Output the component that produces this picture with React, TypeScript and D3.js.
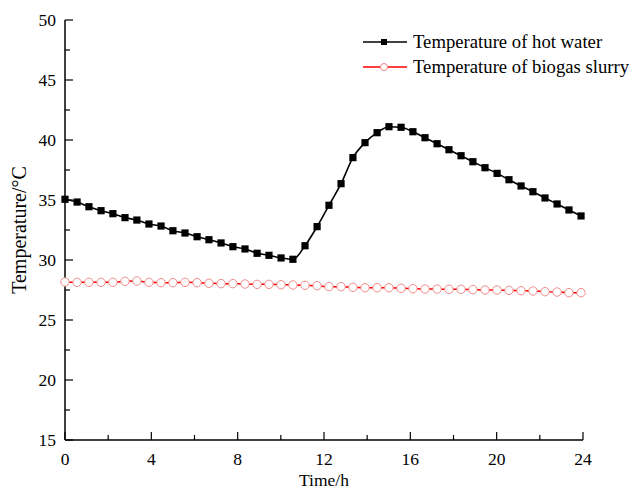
import React from 'react';
import * as d3 from 'd3';

// time (h) of each sample
const timeH = [
  0, 0.56, 1.11, 1.67, 2.22, 2.78, 3.33, 3.89, 4.45, 5.0, 5.56,
  6.12, 6.67, 7.23, 7.78, 8.34, 8.9, 9.45, 10.01, 10.56, 11.12,
  11.68, 12.23, 12.79, 13.34, 13.9, 14.46, 15.01, 15.57, 16.12, 16.68,
  17.24, 17.79, 18.35, 18.9, 19.46, 20.02, 20.57, 21.13, 21.68, 22.24,
  22.8, 23.35, 23.91,
];

const hotWater = [
  35.06, 34.83, 34.44, 34.11, 33.86, 33.53, 33.33, 33.0, 32.83, 32.44, 32.25,
  31.94, 31.69, 31.42, 31.11, 30.92, 30.56, 30.39, 30.17, 30.06, 31.19,
  32.78, 34.56, 36.36, 38.53, 39.78, 40.61, 41.11, 41.06, 40.69, 40.19,
  39.69, 39.19, 38.69, 38.19, 37.69, 37.22, 36.69, 36.17, 35.69, 35.17,
  34.67, 34.17, 33.67,
];

const slurry = [
  28.17, 28.14, 28.14, 28.14, 28.14, 28.22, 28.25, 28.14, 28.11, 28.11, 28.14,
  28.11, 28.06, 28.03, 28.03, 28.0, 27.97, 27.97, 27.94, 27.92, 27.89,
  27.86, 27.78, 27.78, 27.72, 27.69, 27.69, 27.69, 27.64, 27.61, 27.58,
  27.58, 27.56, 27.56, 27.53, 27.5, 27.5, 27.47, 27.44, 27.42, 27.36,
  27.33, 27.28, 27.28,
];

const xTicks = [0, 4, 8, 12, 16, 20, 24];
const xMinor = [2, 6, 10, 14, 18, 22];
const yTicks = [15, 20, 25, 30, 35, 40, 45, 50];
const yMinor = [17.5, 22.5, 27.5, 32.5, 37.5, 42.5, 47.5];

const legendLabels = ['Temperature of hot water', 'Temperature of biogas slurry'];

const W = 633;
const H = 490;
const FONT = '"Liberation Serif", "Times New Roman", serif';

const App: React.FC = () => {
  const x = d3.scaleLinear().domain([0, 24]).range([65, 583]);
  const y = d3.scaleLinear().domain([15, 50]).range([440, 20]);

  const line = d3
    .line<number>()
    .x((_, i) => x(timeH[i]))
    .y((d) => y(d))
    .curve(d3.curveMonotoneX);

  const x0 = x(0);
  const y0 = y(15);

  return (
    <div style={{ position: 'absolute', left: 0, top: 0 }}>
      <svg width={W} height={H} style={{ display: 'block', background: '#fff' }}>
        {/* axes */}
        <line x1={x0} x2={x0} y1={y(50)} y2={y0} stroke="#000" strokeWidth={1.5} />
        <line x1={x0} x2={x(24)} y1={y0} y2={y0} stroke="#000" strokeWidth={1.5} />

        {xTicks.map((t) => (
          <g key={'xt' + t}>
            <line x1={x(t)} x2={x(t)} y1={y0} y2={y0 - 8} stroke="#000" strokeWidth={1.2} />
            <text x={x(t)} y={y0 + 25} textAnchor="middle" fontFamily={FONT} fontSize={17.5}>
              {t}
            </text>
          </g>
        ))}
        {xMinor.map((t) => (
          <line key={'xm' + t} x1={x(t)} x2={x(t)} y1={y0} y2={y0 - 5} stroke="#000" strokeWidth={1.2} />
        ))}

        {yTicks.map((t) => (
          <g key={'yt' + t}>
            <line x1={x0} x2={x0 + 8} y1={y(t)} y2={y(t)} stroke="#000" strokeWidth={1.2} />
            <text x={x0 - 9} y={y(t) + 6} textAnchor="end" fontFamily={FONT} fontSize={17.5}>
              {t}
            </text>
          </g>
        ))}
        {yMinor.map((t) => (
          <line key={'ym' + t} x1={x0} x2={x0 + 5} y1={y(t)} y2={y(t)} stroke="#000" strokeWidth={1.2} />
        ))}

        <text x={(x0 + x(24)) / 2} y={486} textAnchor="middle" fontFamily={FONT} fontSize={17.5}>
          Time/h
        </text>
        <text
          transform={`translate(26,${(y(50) + y0) / 2}) rotate(-90)`}
          textAnchor="middle"
          fontFamily={FONT}
          fontSize={20}
        >
          Temperature/°C
        </text>

        {/* slurry series */}
        <path d={line(slurry) || ''} fill="none" stroke="#ff0000" strokeWidth={1.5} />
        {slurry.map((v, i) => (
          <circle key={'s' + i} cx={x(timeH[i])} cy={y(v)} r={4.2} fill="#fff" stroke="#f08a8a" strokeWidth={1} />
        ))}

        {/* hot water series */}
        <path d={line(hotWater) || ''} fill="none" stroke="#000" strokeWidth={1.6} />
        {hotWater.map((v, i) => (
          <rect key={'h' + i} x={x(timeH[i]) - 3.6} y={y(v) - 3.6} width={7.2} height={7.2} fill="#000" />
        ))}

        {/* legend */}
        {legendLabels.map((lab, i) => {
          const ly = 42 + i * 25;
          return (
            <g key={lab}>
              <line x1={363} x2={407} y1={ly} y2={ly} stroke={i === 0 ? '#000' : '#ff0000'} strokeWidth={1.5} />
              {i === 0 ? (
                <rect x={381} y={ly - 3} width={6} height={6} fill="#000" />
              ) : (
                <circle cx={384} cy={ly} r={3.5} fill="#fff" stroke="#f08a8a" strokeWidth={1} />
              )}
              <text x={413} y={ly + 6} fontFamily={FONT} fontSize={18.7}>
                {lab}
              </text>
            </g>
          );
        })}
      </svg>
    </div>
  );
};

export default App;
